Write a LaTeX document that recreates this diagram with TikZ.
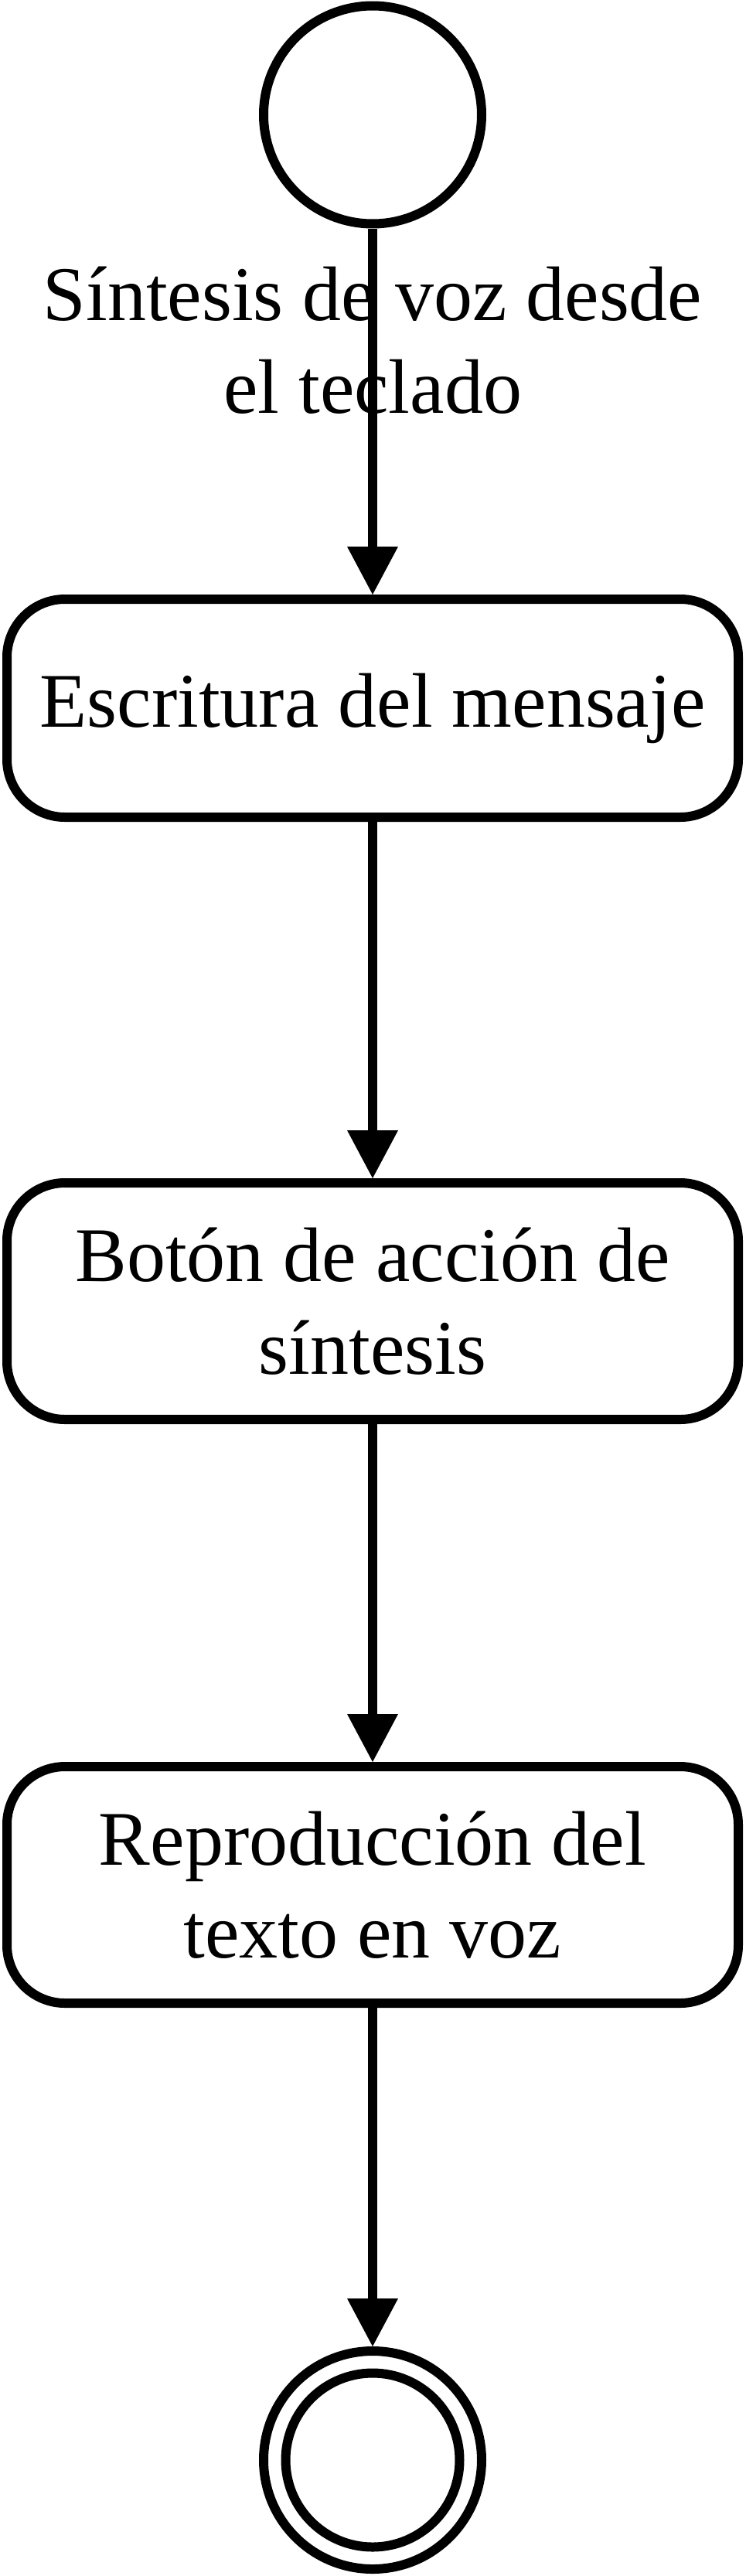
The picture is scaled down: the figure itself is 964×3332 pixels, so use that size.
\documentclass[tikz,border=0pt]{standalone}
\usepackage{fontspec}
\setmainfont{Liberation Serif}
\usetikzlibrary{arrows.meta}
\begin{document}
\begin{tikzpicture}[x=1pt,y=-1pt,
 state/.style={circle,draw,line width=12pt,minimum size=282pt,inner sep=0pt},
 innerstate/.style={circle,draw,line width=12pt,minimum size=225pt,inner sep=0pt},
 act/.style={draw,fill=white,line width=12pt,rounded corners=75pt,minimum width=946pt,inner sep=0pt,align=center,font=\fontsize{100}{120}\selectfont},
 lbl/.style={align=center,inner sep=0pt,font=\fontsize{100}{120}\selectfont},
 arr/.style={line width=12pt,-{Triangle[length=62pt,width=66pt,line width=0pt]}}]
\useasboundingbox (0,0) rectangle (964,3332);
\node[state] (start) at (482,148.5) {};
\node[act,minimum height=282pt] (b1) at (482,916) {Escritura del mensaje};
\node[act,minimum height=306pt] (b2) at (482,1683) {Botón de acción de\\síntesis};
\node[act,minimum height=306pt] (b3) at (482,2438) {Reproducción del\\texto en voz};
\node[state] (end) at (482,3182) {};
\node[innerstate] (endin) at (end) {};
\node[lbl] (lbl1) at (482,440) {Síntesis de voz desde\\el teclado};
\draw[arr] (start) -- (b1);
\draw[arr] (b1) -- (b2);
\draw[arr] (b2) -- (b3);
\draw[arr] (b3) -- (end);
\end{tikzpicture}
\end{document}
